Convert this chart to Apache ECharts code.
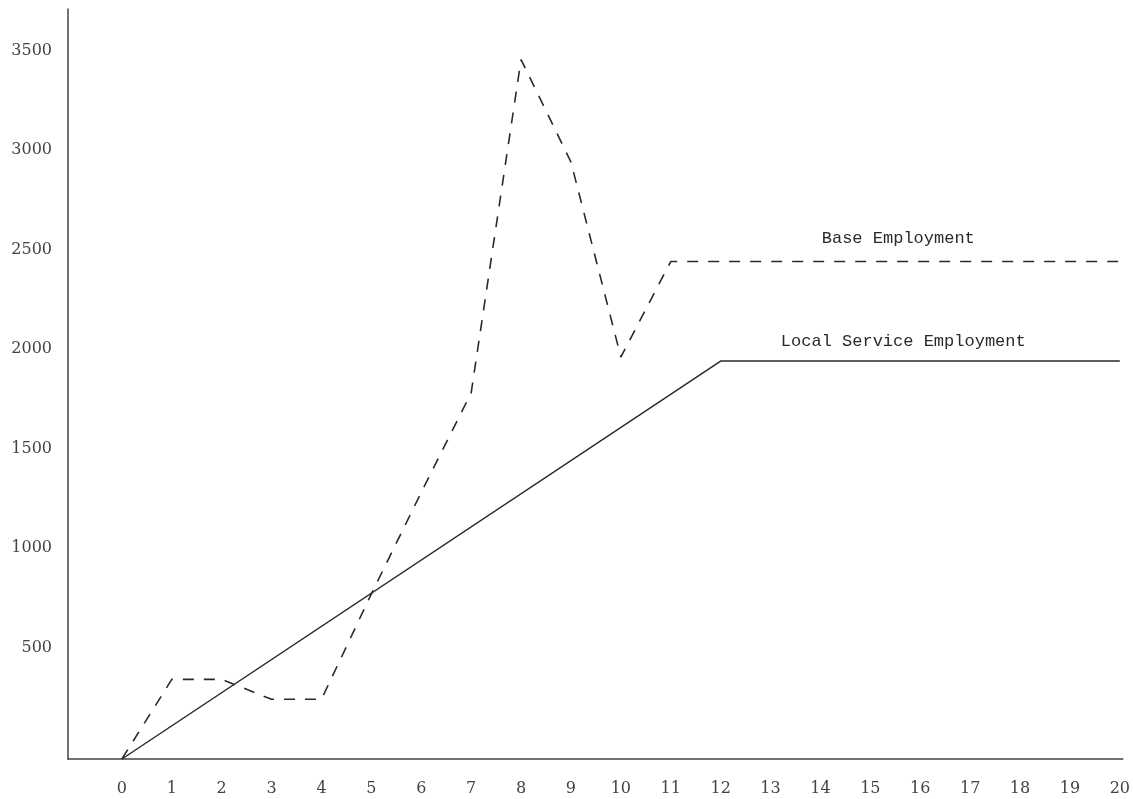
<!DOCTYPE html>
<html>
<head>
<meta charset="utf-8">
<script src="https://cdn.jsdelivr.net/npm/echarts@6/dist/echarts.min.js"></script>
<style>
html,body{margin:0;padding:0;background:#fff;}
#chart{width:1133px;height:799px;}
</style>
</head>
<body>
<div id="chart"></div>
<script>
// Data
var years = [0,1,2,3,4,5,6,7,8,9,10,11,12,13,14,15,16,17,18,19,20];
var baseEmployment = [0,400,400,300,300,830,1340,1840,3515,3000,2020,2500,2500,2500,2500,2500,2500,2500,2500,2500,2500];
var localServiceYears = [0,12,20];
var localServiceEmployment = [0,2000,2000];
var yTickLabels = [500,1000,1500,2000,2500,3000,3500];
var xTickLabels = years;
var seriesNames = ['Base Employment','Local Service Employment'];
var labelCoords = [[15.56,2618],[15.66,2100]];

var baseData = years.map(function(x,i){return [x, baseEmployment[i]];});
var localData = localServiceYears.map(function(x,i){return [x, localServiceEmployment[i]];});

var lineColor = '#2a2a2a';
var chart = echarts.init(document.getElementById('chart'));
chart.setOption({
  animation:false,
  backgroundColor:'#fff',
  grid:{left:68,right:8,top:9,bottom:40,containLabel:false},
  xAxis:{
    type:'value', min:-1.08, max:20.06,
    axisLine:{show:true,onZero:false,lineStyle:{color:'#444',width:1.5}},
    axisTick:{show:false},
    splitLine:{show:false},
    axisLabel:{customValues:xTickLabels, margin:22, color:'#444',
      fontFamily:'DejaVu Serif', fontSize:16, formatter:function(v){return String(v);}}
  },
  yAxis:{
    type:'value', min:0, max:3769,
    axisLine:{show:true,onZero:false,lineStyle:{color:'#444',width:1.5}},
    axisTick:{show:false},
    splitLine:{show:false},
    axisLabel:{customValues:yTickLabels, margin:16, color:'#444',
      fontFamily:'DejaVu Serif', fontSize:16, verticalAlign:'bottom', lineHeight:24,
      formatter:function(v){return String(v);}}
  },
  series:[
    {
      name:seriesNames[0], type:'line', data:baseData, showSymbol:false, symbol:'none',
      lineStyle:{color:lineColor,width:1.6,type:[11,10]},
      markPoint:{symbol:'circle',symbolSize:0,
        data:[{coord:labelCoords[0]}],
        label:{show:true,formatter:seriesNames[0],color:'#2a2a2a',fontFamily:'Liberation Mono',fontSize:17}}
    },
    {
      name:seriesNames[1], type:'line', data:localData, showSymbol:false, symbol:'none',
      lineStyle:{color:lineColor,width:1.5,type:'solid'},
      markPoint:{symbol:'circle',symbolSize:0,
        data:[{coord:labelCoords[1]}],
        label:{show:true,formatter:seriesNames[1],color:'#2a2a2a',fontFamily:'Liberation Mono',fontSize:17}}
    }
  ]
});
</script>
</body>
</html>
